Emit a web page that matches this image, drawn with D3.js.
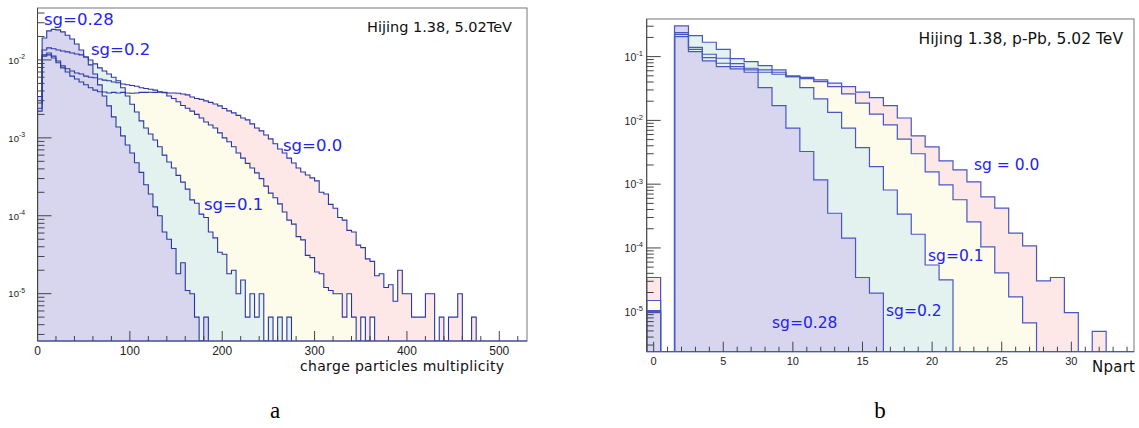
<!DOCTYPE html>
<html>
<head>
<meta charset="utf-8">
<script src="https://cdn.jsdelivr.net/npm/d3@7"></script>
<style>
  body { margin: 0; background: #fff; }
  svg { display: block; }
  text { font-family: "DejaVu Sans", sans-serif; }
  .tick-label { font-family: "Liberation Sans", Arial, sans-serif; fill: #222; }
</style>
</head>
<body>
<div id="chart"></div>
<script>
// ---- panel a: charged particle multiplicity, bins of 5 starting at 0 ----
const multBinWidth = 5;
const multSg028 = [3.4e-3, 0.0191, 0.0236, 0.0247, 0.0243, 0.0229, 0.0207, 0.0186, 0.0160, 0.0134,
  0.0109, 0.00863, 0.00661, 0.00478, 0.00345, 0.00257, 0.00186, 0.00138, 0.00106, 8.1e-4,
  6.4e-4, 4.8e-4, 3.6e-4, 2.5e-4, 1.9e-4, 1.3e-4, 1.0e-4, 6.2e-5, 5.0e-5, 3.8e-5,
  1.8e-5, 2.5e-5, 1.1e-5, 1.0e-5, 5e-6, 0, 5e-6];
const multSg02 = [2.8e-3, 0.0134, 0.0143, 0.0139, 0.0134, 0.0130, 0.0127, 0.0123, 0.0119, 0.0116,
  0.0109, 0.0100, 0.0089, 0.0079, 0.0072, 0.0066, 0.0060, 0.0054, 0.0044, 0.00345,
  0.0027, 0.00215, 0.00165, 0.00134, 0.00112, 9.4e-4, 7.7e-4, 6.0e-4, 4.9e-4, 4.1e-4,
  3.3e-4, 2.7e-4, 2.2e-4, 1.6e-4, 1.45e-4, 1.05e-4, 9.5e-5, 6.2e-5, 5.2e-5, 3.4e-5,
  3.2e-5, 1.8e-5, 2.0e-5, 1.0e-5, 1.5e-5, 5e-6, 1.0e-5, 5e-6, 1.0e-5, 0,
  5e-6, 0, 5e-6, 0, 5e-6];
const multSg01 = [2.4e-3, 0.0116, 0.0123, 0.0112, 0.0097, 0.0084, 0.0077, 0.0072, 0.0068, 0.0066,
  0.0062, 0.0060, 0.0059, 0.0057, 0.0055, 0.0054, 0.0052, 0.0051, 0.0049, 0.0048,
  0.0047, 0.0046, 0.0044, 0.0043, 0.0042, 0.0041, 0.0039, 0.0038, 0.00345, 0.0032,
  0.0029, 0.0026, 0.0024, 0.0022, 0.0020, 0.0018, 0.0016, 0.00146, 0.00134, 0.00116,
  0.0010, 8.9e-4, 7.7e-4, 6.4e-4, 5.5e-4, 4.7e-4, 4.1e-4, 3.55e-4, 3.0e-4, 2.4e-4,
  1.95e-4, 1.7e-4, 1.42e-4, 1.12e-4, 8.8e-5, 7.8e-5, 5.4e-5, 4.9e-5, 3.1e-5, 2.9e-5,
  1.9e-5, 1.8e-5, 1.2e-5, 1.1e-5, 1.0e-5, 1.0e-5, 5e-6, 1.0e-5, 5e-6, 0,
  5e-6, 0, 5e-6];
const multSg00 = [2.2e-3, 0.0112, 0.0116, 0.0106, 0.0092, 0.0079, 0.0070, 0.0062, 0.0057, 0.0052,
  0.0048, 0.0044, 0.0041, 0.0039, 0.00388, 0.00377, 0.00383, 0.00377, 0.00383, 0.00377,
  0.00374, 0.00377, 0.00383, 0.00383, 0.00385, 0.00383, 0.00385, 0.00383, 0.00377, 0.00377,
  0.00374, 0.00366, 0.00356, 0.00335, 0.0032, 0.00312, 0.00298, 0.00285, 0.00272, 0.00257,
  0.00238, 0.00222, 0.00209, 0.00194, 0.0018, 0.0017, 0.00151, 0.00134, 0.00123, 0.00109,
  9.7e-4, 8.4e-4, 7.2e-4, 6.4e-4, 5.5e-4, 4.75e-4, 4.1e-4, 3.65e-4, 3.33e-4, 3.06e-4,
  2.8e-4, 2.0e-4, 1.9e-4, 1.4e-4, 1.25e-4, 9.5e-5, 8.8e-5, 6.5e-5, 6.2e-5, 4.2e-5,
  3.9e-5, 2.8e-5, 2.6e-5, 1.7e-5, 1.8e-5, 1.2e-5, 1.3e-5, 8e-6, 2.0e-5, 1.0e-5,
  1.0e-5, 5e-6, 5e-6, 5e-6, 1.0e-5, 1.0e-5, 0, 5e-6, 0, 5e-6,
  5e-6, 1.0e-5, 0, 0, 5e-6];

// ---- panel b: Npart, one bin per integer starting at 0 ----
const npartSg028 = [9.7e-6, 0, 0.303, 0.120, 0.0857, 0.0698, 0.0641, 0.0569, 0.0327, 0.0171,
  0.00754, 0.00325, 0.00117, 3.5e-4, 1.43e-4, 3.44e-5, 1.96e-5];
const npartSg02 = [1.04e-5, 0, 0.238, 0.214, 0.168, 0.130, 0.0931, 0.0836, 0.0723, 0.0619,
  0.0486, 0.0327, 0.0217, 0.0134, 0.00754, 0.00375, 0.00189, 8.1e-4, 3.4e-4, 1.64e-4,
  5.4e-5, 3.16e-5];
const npartSg01 = [1.5e-5, 0, 0.224, 0.140, 0.109, 0.0943, 0.0778, 0.0657, 0.0619, 0.0569,
  0.0498, 0.0452, 0.0406, 0.0339, 0.0260, 0.0186, 0.0125, 0.0085, 0.0051, 0.0030,
  0.00156, 9.75e-4, 5.7e-4, 2.56e-4, 1.04e-4, 4.07e-5, 1.71e-5, 6.7e-6];
const npartSg00 = [3.44e-5, 0, 0.206, 0.130, 0.0966, 0.0787, 0.0698, 0.0619, 0.0569, 0.0529,
  0.0486, 0.0472, 0.0431, 0.0383, 0.0339, 0.0277, 0.0228, 0.0171, 0.0109, 0.0057,
  0.00384, 0.00232, 0.00168, 0.00109, 6.3e-4, 4.2e-4, 1.71e-4, 1.08e-4, 3.05e-5, 3.44e-5,
  9.7e-6, 0, 4.9e-6];

const multTicks = [0, 100, 200, 300, 400, 500];
const npartTicks = [0, 5, 10, 15, 20, 25, 30];
const multDecades = [-5, -4, -3, -2];
const npartDecades = [-5, -4, -3, -2, -1];

// drawn back to front: sg=0.0, 0.1, 0.2, 0.28
const fillColors = ["#fde7e7", "#fdfbea", "#e4f2ef", "#d8d6ee"];

const W = 1139, H = 428;
const svg = d3.select("#chart").append("svg")
  .attr("width", W).attr("height", H);

function drawPanel(cfg) {
  const x = d3.scaleLinear().domain(cfg.xDomain).range([cfg.left, cfg.right]);
  const y = d3.scaleLog().domain(cfg.yDomain).range([cfg.bottom, cfg.top]);
  const g = svg.append("g");

  g.append("clipPath").attr("id", cfg.id + "-clip")
    .append("rect")
    .attr("x", cfg.left).attr("y", cfg.top)
    .attr("width", cfg.right - cfg.left).attr("height", cfg.bottom - cfg.top);

  const yv = d => d.v > 0 ? Math.min(y(d.v), cfg.bottom) : cfg.bottom;
  const toPoints = vals => {
    const pts = [{x: cfg.binStart, v: 0}];
    vals.forEach((v, i) => pts.push({x: cfg.binStart + i * cfg.binWidth, v: v}));
    pts.push({x: cfg.binStart + vals.length * cfg.binWidth, v: 0});
    return pts;
  };
  const area = d3.area().x(d => x(d.x)).y0(cfg.bottom).y1(yv).curve(d3.curveStepAfter);
  const line = d3.line().x(d => x(d.x)).y(yv).curve(d3.curveStepAfter);

  const plot = g.append("g").attr("clip-path", `url(#${cfg.id}-clip)`);
  cfg.series.forEach((vals, i) => {
    plot.append("path").attr("d", area(toPoints(vals)))
      .attr("fill", fillColors[i]);
  });
  cfg.series.forEach(vals => {
    plot.append("path").attr("d", line(toPoints(vals)))
      .attr("fill", "none")
      .attr("stroke", cfg.lineColor)
      .attr("stroke-width", cfg.lineWidth)
      .attr("stroke-linejoin", "miter");
  });

  // frame
  g.append("rect")
    .attr("x", cfg.left).attr("y", cfg.top)
    .attr("width", cfg.right - cfg.left).attr("height", cfg.bottom - cfg.top)
    .attr("fill", "none").attr("stroke", "#777").attr("stroke-width", 1);
  g.append("line")
    .attr("x1", cfg.left).attr("x2", cfg.right)
    .attr("y1", cfg.bottom).attr("y2", cfg.bottom)
    .attr("stroke", cfg.lineColor).attr("stroke-width", 1.2);
  g.append("line")
    .attr("x1", cfg.left).attr("x2", cfg.left)
    .attr("y1", cfg.top).attr("y2", cfg.bottom)
    .attr("stroke", "#444").attr("stroke-width", 1);

  // x ticks
  const xMinor = d3.range(cfg.xMinorStart, cfg.xDomain[1] + 1e-9, cfg.xMinorStep);
  g.selectAll(null).data(xMinor).join("line")
    .attr("x1", d => x(d)).attr("x2", d => x(d))
    .attr("y1", cfg.bottom).attr("y2", d => cfg.xTicks.includes(d) ? cfg.bottom - 10 : cfg.bottom - 5)
    .attr("stroke", "#444").attr("stroke-width", 1);
  g.selectAll(null).data(cfg.xTicks).join("text")
    .attr("class", "tick-label")
    .attr("x", d => x(d)).attr("y", cfg.xLabelY)
    .attr("text-anchor", "middle")
    .style("font-size", cfg.xLabelSize + "px")
    .text(d => d);

  // y ticks (log)
  const yMinor = [];
  cfg.decades.concat([cfg.decades[0] - 1]).forEach(e => {
    for (let k = 2; k <= 9; k++) {
      const v = k * Math.pow(10, e);
      if (v > cfg.yDomain[0] && v < cfg.yDomain[1]) yMinor.push(v);
    }
  });
  g.selectAll(null).data(yMinor).join("line")
    .attr("x1", cfg.left).attr("x2", cfg.left + 7)
    .attr("y1", d => y(d)).attr("y2", d => y(d))
    .attr("stroke", "#444").attr("stroke-width", 1);
  g.selectAll(null).data(cfg.decades).join("line")
    .attr("x1", cfg.left).attr("x2", cfg.left + 14)
    .attr("y1", d => y(Math.pow(10, d))).attr("y2", d => y(Math.pow(10, d)))
    .attr("stroke", "#444").attr("stroke-width", 1);
  const yl = g.selectAll(null).data(cfg.decades).join("text")
    .attr("class", "tick-label")
    .attr("x", cfg.yLabelX)
    .attr("y", d => y(Math.pow(10, d)) + cfg.yLabelSize * 0.4)
    .attr("text-anchor", "end")
    .style("font-size", cfg.yLabelSize + "px");
  yl.append("tspan").text("10");
  yl.append("tspan")
    .attr("dy", -cfg.yLabelSize * 0.45)
    .style("font-size", (cfg.yLabelSize * 0.72) + "px")
    .text(d => d);

  // header text
  g.append("text")
    .attr("x", cfg.titleX).attr("y", cfg.titleY)
    .attr("text-anchor", "end")
    .style("font-size", cfg.titleSize + "px")
    .attr("fill", "#111")
    .text(cfg.title);

  // axis title
  g.append("text")
    .attr("x", cfg.axisTitleX).attr("y", cfg.axisTitleY)
    .attr("text-anchor", "end")
    .attr("textLength", cfg.axisTitleWidth)
    .attr("lengthAdjust", "spacing")
    .style("font-size", cfg.axisTitleSize + "px")
    .attr("fill", "#111")
    .text(cfg.axisTitle);

  // series labels
  cfg.notes.forEach(n => {
    g.append("text")
      .attr("x", n.x).attr("y", n.y)
      .style("font-size", cfg.noteSize + "px")
      .attr("fill", "#2323f0")
      .text(n.t);
  });

  // panel letter
  g.append("text")
    .attr("x", cfg.letterX).attr("y", 418)
    .attr("text-anchor", "middle")
    .style("font-family", "'Liberation Serif', 'Times New Roman', serif")
    .style("font-size", "23px")
    .attr("fill", "#000")
    .text(cfg.letter);
}

drawPanel({
  id: "mult",
  left: 37.5, right: 527, top: 8, bottom: 341,
  xDomain: [0, 530], yDomain: [2.47e-6, 0.0464],
  binStart: 0, binWidth: multBinWidth,
  series: [multSg00, multSg01, multSg02, multSg028],
  lineColor: "#2a38a6", lineWidth: 1.1,
  xTicks: multTicks, xMinorStart: 0, xMinorStep: 20,
  xLabelY: 355, xLabelSize: 12,
  decades: multDecades, yLabelX: 25, yLabelSize: 9.5,
  title: "Hijing 1.38, 5.02TeV", titleX: 512, titleY: 32, titleSize: 14.5,
  axisTitle: "charge particles multiplicity", axisTitleX: 504, axisTitleY: 371,
  axisTitleSize: 14, axisTitleWidth: 204,
  noteSize: 16.5,
  notes: [
    {t: "sg=0.28", x: 44, y: 25},
    {t: "sg=0.2", x: 91, y: 55},
    {t: "sg=0.1", x: 204, y: 210},
    {t: "sg=0.0", x: 283, y: 151}
  ],
  letter: "a", letterX: 275
});

drawPanel({
  id: "npart",
  left: 646.7, right: 1134, top: 19, bottom: 351.7,
  xDomain: [-0.5, 34.5], yDomain: [2.36e-6, 0.389],
  binStart: -0.5, binWidth: 1,
  series: [npartSg00, npartSg01, npartSg02, npartSg028],
  lineColor: "#4857c4", lineWidth: 1.2,
  xTicks: npartTicks, xMinorStart: 0, xMinorStep: 1,
  xLabelY: 365, xLabelSize: 11,
  decades: npartDecades, yLabelX: 643, yLabelSize: 10.5,
  title: "Hijing 1.38, p-Pb, 5.02 TeV", titleX: 1123, titleY: 44, titleSize: 15.5,
  axisTitle: "Npart", axisTitleX: 1135, axisTitleY: 372,
  axisTitleSize: 15, axisTitleWidth: 43,
  noteSize: 15.5,
  notes: [
    {t: "sg = 0.0", x: 974, y: 170},
    {t: "sg=0.1", x: 928, y: 261},
    {t: "sg=0.2", x: 886, y: 316},
    {t: "sg=0.28", x: 772, y: 328}
  ],
  letter: "b", letterX: 880
});
</script>
</body>
</html>
